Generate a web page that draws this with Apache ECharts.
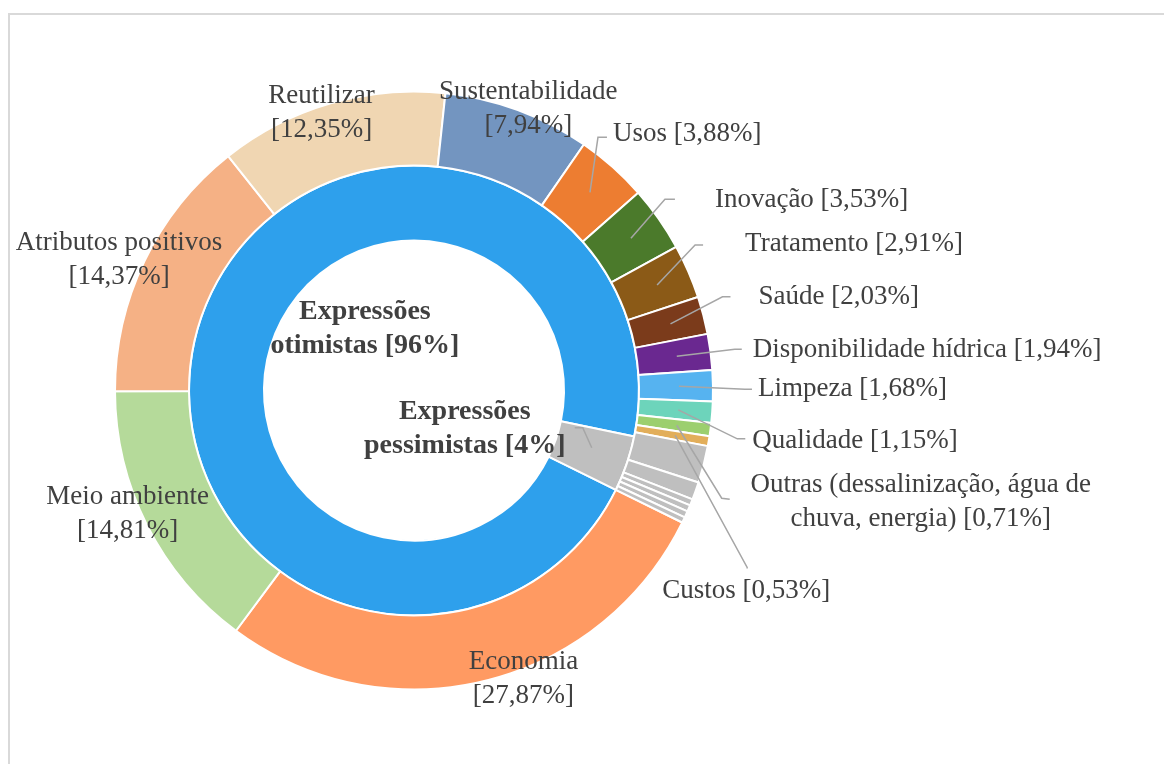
<!DOCTYPE html>
<html>
<head>
<meta charset="utf-8">
<script src="https://cdn.jsdelivr.net/npm/echarts@6/dist/echarts.min.js"></script>
<style>
html,body{margin:0;padding:0;background:#fff;overflow:hidden;}
#frame{position:absolute;left:8px;top:13px;width:1170px;height:770px;border-left:2px solid #d9d9d9;border-top:2px solid #d9d9d9;box-sizing:border-box;}
#chart{position:absolute;left:0;top:0;width:1164px;height:764px;}
</style>
</head>
<body>
<div id="frame"></div>
<div id="chart"></div>
<script>
// ---- data ----
const categories = ['Economia', 'Meio ambiente', 'Atributos positivos', 'Reutilizar', 'Sustentabilidade',
  'Usos', 'Inovação', 'Tratamento', 'Saúde', 'Disponibilidade hídrica', 'Limpeza', 'Qualidade',
  'Outras (dessalinização, água de chuva, energia)', 'Custos'];
const values = [27.87, 14.81, 14.37, 12.35, 7.94, 3.88, 3.53, 2.91, 2.03, 1.94, 1.68, 1.15, 0.71, 0.53];
const pessimisticParts = [2.0, 0.95, 0.35, 0.35, 0.35, 0.3];   // unlabeled gray slices
const innerCategories = ['Expressões otimistas', 'Expressões pessimistas'];
const innerValues = [96, 4];

// ---- styles ----
const colors = ['#FF9A62', '#B5DA9A', '#F5B185', '#F0D6B2', '#7395C0', '#ED7D31', '#4B7A2B',
  '#8B5A17', '#7B3B1B', '#6A2890', '#56B3F0', '#6DD4BB', '#9CCF6E', '#E2AE5A'];
const GRAY = '#BFBFBF';
const innerColors = ['#2EA0EC', GRAY];
const BIG = 5;
const TXT = '#404040';
const FONT = 'Liberation Serif';
const LINE = {color: '#A6A6A6', width: 1.5};

// label layout tweaks (offsets in px)
const bigLabelShift = [[38, -6], [-16, -13], [-22, 1], [-8, 13], [9, 3]];
const smallLabelLayout = [
  {label: [23, -58], elbow: [8, -55], end: [17, -55]},
  {label: [84, -38], elbow: [34, -39], end: [44, -39]},
  {label: [88, -41], elbow: [38, -40], end: [46, -40]},
  {label: [88, -27], elbow: [52, -27], end: [60, -27]},
  {label: [76, -6], elbow: [58, -7], end: [65, -7]},
  {label: [79, 3], elbow: [66, 3], end: [73, 3]},
  {label: [74, 31], elbow: [59, 29], end: [67, 29]},
  {label: [244, 77], elbow: [45, 73], end: [53, 74], align: 'center'},
  {label: [71, 155], elbow: [72, 132], end: [72, 133], align: 'center'}
];

const CENTER = [414, 390.5];
const START = -26.2;
const fmt = v => v.toFixed(2).replace('.', ',');

const outerValues = values.concat(pessimisticParts);
const outerNames = categories.concat(pessimisticParts.map((_, i) => 'p' + (i + 1)));

const mainData = outerValues.map((v, i) => ({
  name: outerNames[i], value: v,
  itemStyle: {color: i < categories.length ? colors[i] : GRAY}
}));
const bigData = outerValues.map((v, i) => ({
  name: outerNames[i], value: v, label: {show: i < BIG}
}));
const smallData = outerValues.map((v, i) => ({
  name: outerNames[i], value: v, label: {show: i >= BIG && i < categories.length}
}));
const innerData = innerValues.map((v, i) => ({
  name: innerCategories[i], value: v, itemStyle: {color: innerColors[i]}
}));
const innerLabelData = innerValues.map((v, i) => ({
  name: innerCategories[i], value: v,
  label: {position: i === 0 ? 'inside' : 'outside'},
  labelLine: {show: i === 1}
}));

const textStyle = {color: TXT, fontFamily: FONT, fontSize: 27, lineHeight: 34, overflow: 'none'};
const clear = {color: 'rgba(0,0,0,0)', borderWidth: 0};

const chart = echarts.init(document.getElementById('chart'));
chart.setOption({
  backgroundColor: 'transparent',
  animation: false,
  series: [
    {
      type: 'pie', name: 'inner', center: CENTER, radius: [150, 225], startAngle: START,
      silent: true, z: 2,
      itemStyle: {borderColor: '#fff', borderWidth: 2},
      label: {show: false}, labelLine: {show: false},
      data: innerData
    },
    {
      type: 'pie', name: 'outer', center: CENTER, radius: [225, 299], startAngle: START,
      silent: true, z: 2,
      itemStyle: {borderColor: '#fff', borderWidth: 2},
      label: {show: false}, labelLine: {show: false},
      data: mainData
    },
    {
      type: 'pie', name: 'innerLabels', center: CENTER, radius: [150, 225], startAngle: START,
      silent: true, avoidLabelOverlap: false, z: 5,
      itemStyle: clear,
      label: Object.assign({}, textStyle, {
        show: true, fontWeight: 'bold', fontSize: 28, lineHeight: 34, align: 'center',
        formatter: p => {
          const w = p.name.split(' ');
          return w[0] + '\n' + w[1] + ' [' + p.value + '%]';
        }
      }),
      labelLine: {length: 5, length2: 5, lineStyle: LINE},
      labelLayout: p => {
        if (p.dataIndex === 0) return {dx: 131, dy: 0};
        const a = p.labelLinePoints && p.labelLinePoints[0];
        if (!a) return {};
        return {
          x: a[0] - 162, y: a[1] - 35, align: 'center', verticalAlign: 'middle',
          labelLinePoints: [[a[0] - 35, a[1] - 16], [a[0] - 44, a[1] - 36], [a[0] - 52, a[1] - 36]]
        };
      },
      data: innerLabelData
    },
    {
      type: 'pie', name: 'bigLabels', center: CENTER, radius: [270, 330], startAngle: START,
      silent: true, avoidLabelOverlap: false, z: 5,
      itemStyle: clear,
      label: Object.assign({}, textStyle, {
        position: 'inside', align: 'center',
        formatter: p => p.name + '\n[' + fmt(p.value) + '%]'
      }),
      labelLine: {show: false},
      labelLayout: p => {
        const s = bigLabelShift[p.dataIndex];
        return s ? {dx: s[0], dy: s[1]} : {};
      },
      data: bigData
    },
    {
      type: 'pie', name: 'smallLabels', center: CENTER, radius: [226, 265], startAngle: START,
      silent: true, avoidLabelOverlap: false, z: 5,
      itemStyle: clear,
      label: Object.assign({}, textStyle, {
        position: 'outside',
        formatter: p => {
          const t = p.name + ' [' + fmt(p.value) + '%]';
          return t.replace('água de ', 'água de\n');
        }
      }),
      labelLine: {show: true, length: 4, length2: 4, lineStyle: LINE},
      labelLayout: p => {
        const cfg = smallLabelLayout[p.dataIndex - BIG];
        const a = p.labelLinePoints && p.labelLinePoints[0];
        if (!cfg || !a) return {};
        return {
          x: a[0] + cfg.label[0], y: a[1] + cfg.label[1],
          align: cfg.align || 'left', verticalAlign: 'middle',
          labelLinePoints: [[a[0], a[1]], [a[0] + cfg.elbow[0], a[1] + cfg.elbow[1]], [a[0] + cfg.end[0], a[1] + cfg.end[1]]]
        };
      },
      data: smallData
    }
  ]
});
</script>
</body>
</html>
